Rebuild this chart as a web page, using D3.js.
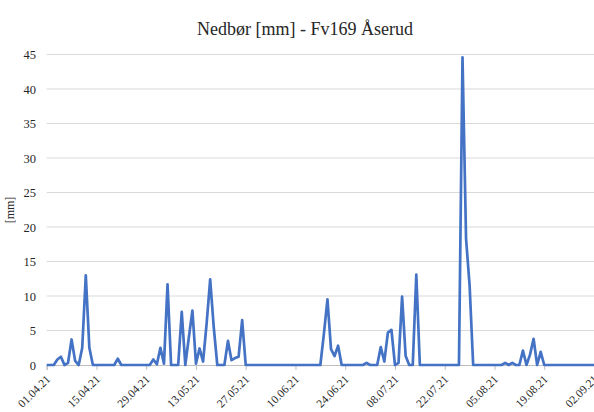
<!DOCTYPE html>
<html>
<head>
<meta charset="utf-8">
<script src="https://cdn.jsdelivr.net/npm/d3@7"></script>
<style>
  html, body { margin: 0; padding: 0; background: #fff; }
  svg { display: block; }
  text { font-family: "Liberation Serif", "Times New Roman", serif; fill: #262626; }
</style>
</head>
<body>
<svg id="chart" width="594" height="412"></svg>
<script>
// ---- data ----
const startDate = "2021-04-01";
const precipitation = [
  0, 0, 0, 0.8, 1.2, 0, 0.3, 3.7, 0.6, 0, 2.5, 13.0, 2.5, 0,
  0, 0, 0, 0, 0, 0, 0.9, 0, 0, 0, 0, 0, 0, 0,
  0, 0, 0.8, 0.1, 2.5, 0.2, 11.7, 0, 0, 0, 7.7, 0, 4.0, 7.9,
  0.2, 2.4, 0.5, 6.0, 12.4, 5.5, 0, 0, 0, 3.5, 0.7, 1.0, 1.2, 6.5,
  0, 0, 0, 0, 0, 0, 0, 0, 0, 0, 0, 0, 0, 0,
  0, 0, 0, 0, 0, 0, 0, 0, 4.5, 9.5, 2.3, 1.3, 2.8, 0,
  0, 0, 0, 0, 0, 0, 0.3, 0, 0, 0, 2.6, 0.5, 4.7, 5.1,
  0, 0.3, 9.9, 1.3, 0, 0, 13.1, 0, 0, 0, 0, 0, 0, 0,
  0, 0, 0, 0, 0, 44.6, 18.3, 11.5, 0, 0, 0, 0, 0, 0,
  0, 0, 0, 0.3, 0, 0.3, 0, 0, 2.1, 0, 1.5, 3.8, 0, 1.9,
  0, 0, 0, 0, 0, 0, 0, 0, 0, 0, 0, 0, 0, 0, 0
];
const xTickLabels = ["01.04.21","15.04.21","29.04.21","13.05.21","27.05.21","10.06.21",
                     "24.06.21","08.07.21","22.07.21","05.08.21","19.08.21","02.09.21"];
const yTicks = [0, 5, 10, 15, 20, 25, 30, 35, 40, 45];
const titleText = "Nedbør [mm] - Fv169 Åserud";
const yAxisTitle = "[mm]";

// ---- layout ----
const W = 594, H = 412;
const m = { left: 46.7, right: 0, top: 54.5, bottom: 47 };
const svg = d3.select("#chart");

const x = d3.scaleLinear().domain([0, precipitation.length - 1]).range([m.left, W - m.right]);
const y = d3.scaleLinear().domain([0, 45]).range([H - m.bottom, m.top]);

// gridlines
svg.append("g").selectAll("line").data(yTicks.filter(t => t > 0)).join("line")
  .attr("x1", m.left).attr("x2", W)
  .attr("y1", d => y(d)).attr("y2", d => y(d))
  .attr("stroke", "#d9d9d9").attr("stroke-width", 1);

// y labels
svg.append("g").selectAll("text").data(yTicks).join("text")
  .attr("x", 36).attr("y", d => y(d) + 4.5)
  .attr("text-anchor", "end").attr("font-size", 12.5)
  .text(d => d);

// x axis
const tickIdx = xTickLabels.map((_, i) => i * 14);
const xAxis = d3.axisBottom(x).tickValues(tickIdx).tickSize(5).tickFormat((d, i) => xTickLabels[i]);
const gx = svg.append("g").attr("transform", `translate(0,${y(0)})`).call(xAxis);
gx.select(".domain").attr("stroke", "#bfbfbf");
gx.selectAll(".tick line").attr("stroke", "#bfbfbf");
gx.selectAll(".tick text")
  .attr("font-family", "Liberation Serif, Times New Roman, serif")
  .attr("font-size", 11.5).attr("fill", "#262626")
  .attr("text-anchor", "end")
  .attr("x", 0).attr("y", 0).attr("dy", "0.35em")
  .attr("transform", "translate(1,12) rotate(-45)");

// line
const line = d3.line().x((d, i) => x(i)).y(d => y(d));
svg.append("path").datum(precipitation)
  .attr("d", line).attr("fill", "none")
  .attr("stroke", "#4472c4").attr("stroke-width", 2.7)
  .attr("stroke-linejoin", "round");

// title
svg.append("text").attr("x", 305).attr("y", 35)
  .attr("text-anchor", "middle").attr("font-size", 18).text(titleText);

// y axis title
svg.append("text").attr("transform", "translate(14,210) rotate(-90)")
  .attr("text-anchor", "middle").attr("font-size", 12).text(yAxisTitle);
</script>
</body>
</html>
